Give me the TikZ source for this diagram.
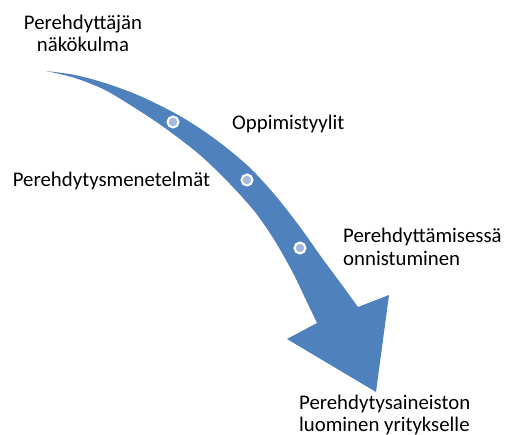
\documentclass[tikz,border=0pt]{standalone}
\usepackage{fontspec}
\setmainfont{Carlito}
\definecolor{arrowblue}{HTML}{4F81BD}
\definecolor{dotfill}{HTML}{A8BADB}
\begin{document}
\begin{tikzpicture}[x=1pt,y=-1pt,
  lbl/.style={font=\fontsize{20.8}{22.4}\selectfont, inner sep=0pt, text=black},
  dotmark/.style={circle, fill=dotfill, draw=white, line width=2pt, minimum size=11pt, inner sep=0pt}]
\useasboundingbox (0,0) rectangle (506,434);
\fill[arrowblue] plot[smooth] coordinates {(46,71) (75,75) (105,83) (140,96) (180,116) (215,139) (248,166) (275,195) (300,227) (322,258) (342,285) (358,307)}
  -- (389,295) -- (376,392) -- (287,339) -- (317,323)
  -- plot[smooth] coordinates {(317,323) (306,300) (293,273) (275,241) (255,212) (230,184) (200,155) (165,128) (135,108) (105,90) (75,78) (46,71)} -- cycle;
\node[dotmark] (d1) at (173,122) {};
\node[dotmark] (d2) at (247,180) {};
\node[dotmark] (d3) at (300,248) {};
\node[lbl, anchor=base, align=center] (t1) at (83,51.7) {Perehdyttäjän\\näkökulma};
\node[lbl, anchor=base west] (t2) at (232,129) {Oppimistyylit};
\node[lbl, anchor=base west] (t3) at (12.7,186.7) {Perehdytysmenetelmät};
\node[lbl, anchor=base west, align=left] (t4) at (343,265) {Perehdyttämisessä\\onnistuminen};
\node[lbl, anchor=base west, align=left] (t5) at (299,431.5) {Perehdytysaineiston\\luominen yritykselle};
\end{tikzpicture}
\end{document}
